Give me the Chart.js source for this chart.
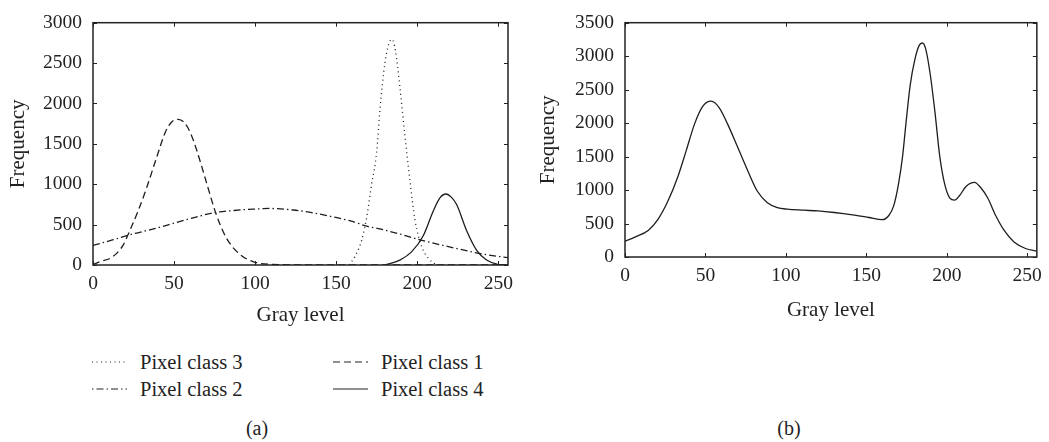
<!DOCTYPE html>
<html lang="en">

<head>
    <meta charset="UTF-8">
    <title>Gray level histograms</title>
    <script src="https://cdn.jsdelivr.net/npm/chart.js"></script>
    <style>
        body {
            margin: 0;
            background: #fff;
            font-family: 'Liberation Serif', serif;
            color: #222;
        }

        .pagina {
            position: relative;
            width: 1049px;
            height: 442px;
            overflow: hidden;
        }

        .pagina canvas {
            position: absolute;
            top: 0;
        }

        .legenda-item {
            position: absolute;
            height: 22px;
            display: flex;
            align-items: center;
            font-size: 20.5px;
            white-space: nowrap;
        }

        .legenda-item svg {
            margin-right: 13px;
        }

        .rotulo {
            position: absolute;
            font-size: 20px;
            transform: translate(-50%, -50%);
        }
    </style>
</head>

<body>
    <div class="pagina">
        <canvas id="graficoA" width="530" height="330" style="left:0"></canvas>
        <canvas id="graficoB" width="519" height="330" style="left:530px"></canvas>

        <!-- legenda do painel (a) -->
        <div class="legenda-item" style="left:92px; top:351px">
            <svg width="35" height="4"><line x1="0" y1="2" x2="35" y2="2" stroke="#222" stroke-width="1.2" stroke-dasharray="1 3.5"/></svg>
            Pixel class 3
        </div>
        <div class="legenda-item" style="left:92px; top:378px">
            <svg width="35" height="4"><line x1="0" y1="2" x2="35" y2="2" stroke="#222" stroke-width="1.2" stroke-dasharray="1.5 3 7 3"/></svg>
            Pixel class 2
        </div>
        <div class="legenda-item" style="left:333px; top:351px">
            <svg width="35" height="4"><line x1="0" y1="2" x2="35" y2="2" stroke="#222" stroke-width="1.2" stroke-dasharray="7 4"/></svg>
            Pixel class 1
        </div>
        <div class="legenda-item" style="left:333px; top:378px">
            <svg width="35" height="4"><line x1="0" y1="2" x2="35" y2="2" stroke="#222" stroke-width="1.2"/></svg>
            Pixel class 4
        </div>

        <div class="rotulo" style="left:257px; top:428px">(a)</div>
        <div class="rotulo" style="left:789px; top:428px">(b)</div>
    </div>
</body>

</html>
<script>
    // painel (a): as quatro classes de pixel
    var classe1Cinza = [0, 4, 12, 18.5, 22.7, 27.8, 33, 39, 45, 49, 52.5, 56, 60, 64, 70, 76, 82, 90, 99, 110, 130, 256];
    var classe1Freq = [5, 40, 100, 243, 425, 668, 951, 1316, 1662, 1780, 1804, 1770, 1640, 1420, 1020, 628, 344, 142, 40, 8, 2, 0];

    var classe2Cinza = [0, 12, 24.7, 40, 51.4, 63, 74, 87, 99, 109, 123.5, 136, 148, 160, 168.8, 177, 189, 201.7, 210, 223, 238.7, 256];
    var classe2Freq = [243, 310, 385, 460, 527, 590, 645, 675, 692, 700, 681, 645, 596, 540, 480, 446, 385, 312, 270, 210, 142, 90];

    var classe3Cinza = [158, 161.5, 165.7, 168.8, 171.8, 175, 177, 180, 182.5, 184.5, 186.5, 189.3, 192.4, 195.5, 198.6, 202.7, 206.8, 211];
    var classe3Freq = [0, 101, 304, 587, 992, 1400, 1923, 2490, 2740, 2795, 2660, 2207, 1600, 1050, 560, 230, 85, 10];

    var classe4Cinza = [180, 189.3, 196.5, 203.8, 209.9, 214, 217.7, 221, 224.3, 230.5, 236.7, 242.8, 249, 254];
    var classe4Freq = [0, 61, 162, 365, 668, 830, 879, 840, 749, 425, 182, 61, 12, 0];

    // painel (b): histograma total
    var totalCinza = [0, 6.2, 14.4, 20.6, 26.7, 32.9, 38.1, 43.2, 48.4, 53.5, 58.6, 63.8, 70, 76.1, 82.3, 88.5, 94.7, 100.8, 111, 120, 130,
        141.4, 151.6, 159.8, 163.9, 167, 170.1, 172.5, 174.6, 177.3, 180.3, 182.8, 184.8, 186.9, 189.5, 192.6, 195.7, 198.8,
        201.8, 204.9, 208, 212.1, 217.2, 221.3, 225.4, 230.5, 235.7, 241.8, 249, 256];
    var totalFreq = [235, 298, 396, 567, 836, 1202, 1593, 1985, 2253, 2327, 2229, 1985, 1642, 1300, 982, 811, 738, 714, 699, 688, 665,
        630, 590, 557, 616, 763, 1105, 1496, 1985, 2571, 2962, 3158, 3197, 3109, 2767, 2180, 1496, 1080,
        885, 850, 919, 1056, 1114, 1031, 885, 616, 396, 225, 127, 88];

    var ticksCinza = [0, 50, 100, 150, 200, 250];

    var corLinha = '#1e1e1e';
    var fonteSerif = 'Liberation Serif';

    function pontos(cinza, freq) {
        var lista = [];
        for (var i = 0; i < cinza.length; i++) {
            lista.push({ x: cinza[i], y: freq[i] });
        }
        return lista;
    }

    function serie(nome, cinza, freq, tracejado) {
        return {
            label: nome,
            data: pontos(cinza, freq),
            borderColor: corLinha,
            borderWidth: 1.3,
            borderDash: tracejado,
            pointRadius: 0,
            cubicInterpolationMode: 'monotone',
            fill: false
        };
    }

    // moldura com marcas de escala para dentro, nos quatro lados
    var moldura = {
        id: 'moldura',
        afterDatasetsDraw: function (chart) {
            var ctx = chart.ctx;
            var a = chart.chartArea;
            var sx = chart.scales.x;
            var sy = chart.scales.y;
            ctx.save();
            ctx.strokeStyle = '#222';
            ctx.lineWidth = 1;
            sx.ticks.forEach(function (t) {
                var px = Math.round(sx.getPixelForValue(t.value)) + 0.5;
                ctx.beginPath();
                ctx.moveTo(px, a.bottom); ctx.lineTo(px, a.bottom - 4);
                ctx.moveTo(px, a.top); ctx.lineTo(px, a.top + 4);
                ctx.stroke();
            });
            sy.ticks.forEach(function (t) {
                var py = Math.round(sy.getPixelForValue(t.value)) + 0.5;
                ctx.beginPath();
                ctx.moveTo(a.left, py); ctx.lineTo(a.left + 4, py);
                ctx.moveTo(a.right, py); ctx.lineTo(a.right - 4, py);
                ctx.stroke();
            });
            ctx.lineWidth = 1.5;
            ctx.strokeRect(a.left, a.top, a.right - a.left, a.bottom - a.top);
            ctx.restore();
        }
    };

    function opcoes(yMax, largY, altX, padTituloX) {
        return {
            responsive: false,
            animation: false,
            layout: { padding: 0 },
            plugins: {
                legend: { display: false },
                tooltip: { enabled: false }
            },
            scales: {
                x: {
                    type: 'linear',
                    min: 0,
                    max: 256,
                    afterBuildTicks: function (scale) {
                        scale.ticks = ticksCinza.map(function (v) { return { value: v }; });
                    },
                    afterFit: function (scale) { scale.height = altX; },
                    grid: { display: false, drawTicks: false },
                    border: { display: false },
                    ticks: {
                        color: '#222',
                        padding: 7,
                        maxRotation: 0,
                        font: { family: fonteSerif, size: 19.5 },
                        callback: function (v) { return String(v); }
                    },
                    title: {
                        display: true,
                        text: 'Gray level',
                        color: '#222',
                        padding: { top: 0, bottom: padTituloX },
                        font: { family: fonteSerif, size: 21, lineHeight: 1 }
                    }
                },
                y: {
                    min: 0,
                    max: yMax,
                    afterFit: function (scale) { scale.width = largY; },
                    grid: { display: false, drawTicks: false },
                    border: { display: false },
                    ticks: {
                        stepSize: 500,
                        color: '#222',
                        padding: 11,
                        font: { family: fonteSerif, size: 19.5 },
                        callback: function (v) { return String(v); }
                    },
                    title: {
                        display: true,
                        text: 'Frequency',
                        color: '#222',
                        padding: { top: 7.5, bottom: 0 },
                        font: { family: fonteSerif, size: 21, lineHeight: 1 }
                    }
                }
            }
        };
    }

    var opcoesA = opcoes(3000, 93, 65, 4.5);
    opcoesA.layout.padding = { top: 18, right: 22, left: 0, bottom: 0 };
    new Chart(document.getElementById('graficoA'), {
        type: 'line',
        data: {
            datasets: [
                serie('Pixel class 1', classe1Cinza, classe1Freq, [7, 4]),
                serie('Pixel class 2', classe2Cinza, classe2Freq, [7, 3, 1.5, 3]),
                serie('Pixel class 3', classe3Cinza, classe3Freq, [1, 3.5]),
                serie('Pixel class 4', classe4Cinza, classe4Freq, [])
            ]
        },
        options: opcoesA,
        plugins: [moldura]
    });

    var opcoesB = opcoes(3500, 95, 73, 9.5);
    opcoesB.layout.padding = { top: 19, right: 8, left: 0, bottom: 0 };
    new Chart(document.getElementById('graficoB'), {
        type: 'line',
        data: {
            datasets: [
                serie('Histogram', totalCinza, totalFreq, [])
            ]
        },
        options: opcoesB,
        plugins: [moldura]
    });
</script>
